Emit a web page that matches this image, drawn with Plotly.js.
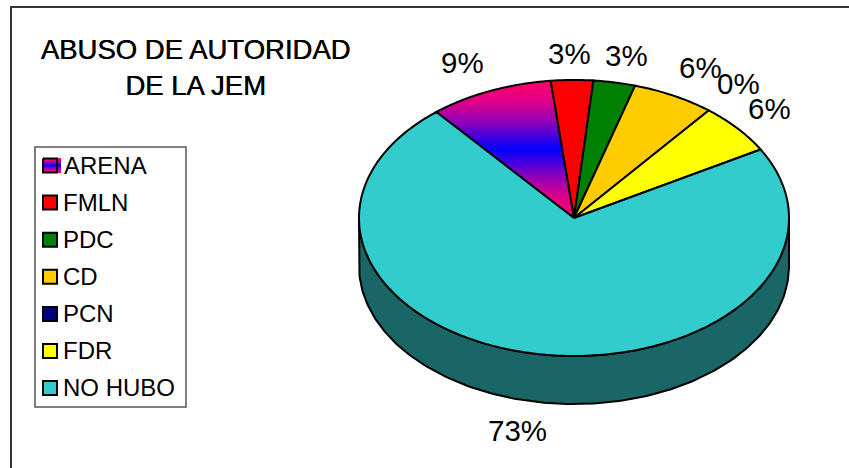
<!DOCTYPE html>
<html><head><meta charset="utf-8">
<script src="https://cdn.plot.ly/plotly-3.0.1.min.js"></script>
<style>html,body{margin:0;padding:0;background:#fff;overflow:hidden}#c{width:849px;height:468px}</style>
</head><body><div id="c"></div>
<script>
var categories = ["ARENA","FMLN","PDC","CD","PCN","FDR","NO HUBO"];
var percents = [9,3,3,6,0,6,73];
var colors = ["#0000ff","#ff0000","#008000","#ffcc00","#000080","#ffff00","#33cccc"];
var sideColor = "#1a6565";
var titleText = "ABUSO DE AUTORIDAD<br>DE LA JEM";

// percent label anchors on the page-pixel axes
var labelX = [462,569,626,700,738,769,517];
var labelY = [62,53,55,67,83,108,430];

// pie view geometry
var cx=574, cy=218, rx=215, ry=138, depth=48, startDeg=-38.3, stretch=1.055;
var FONT="Liberation Sans, Arial, sans-serif";
var GRAD={type:"vertical",colorscale:[[0,"#ff0066"],[0.15,"#e00088"],[0.3,"#9000b8"],[0.5,"#0000ff"],[0.7,"#9000b8"],[0.85,"#e00088"],[1,"#ff0066"]]};

function rim(deg){
  var a=deg*Math.PI/180;
  var t=Math.atan2(Math.sin(a)*stretch,Math.cos(a));
  return [cx+rx*Math.sin(t), cy-ry*Math.cos(t)];
}
var traces=[];
// side wall: front half of the rim, dropped by depth
var wx=[],wy=[],d;
for(d=90;d<=270;d++){wx.push(cx+rx*Math.sin(d*Math.PI/180));wy.push(cy-ry*Math.cos(d*Math.PI/180));}
for(d=270;d>=90;d--){wx.push(cx+rx*Math.sin(d*Math.PI/180));wy.push(cy-ry*Math.cos(d*Math.PI/180)+depth);}
wx.push(wx[0]);wy.push(wy[0]);
traces.push({type:"scatter",mode:"lines",x:wx,y:wy,fill:"toself",fillcolor:sideColor,
  line:{color:"#000",width:2},hoverinfo:"skip",showlegend:false,name:"side"});

// top face slices, computed from percents
var total=percents.reduce(function(a,b){return a+b;},0), ang=startDeg;
percents.forEach(function(v,i){
  var sweep=v/total*360;
  if(sweep>0){
    var xs=[cx],ys=[cy],n=Math.max(2,Math.ceil(sweep));
    for(var k=0;k<=n;k++){var p=rim(ang+sweep*k/n);xs.push(p[0]);ys.push(p[1]);}
    xs.push(cx);ys.push(cy);
    var tr={type:"scatter",mode:"lines",x:xs,y:ys,fill:"toself",fillcolor:colors[i],
      line:{color:"#000",width:2,simplify:false},name:categories[i],text:v+"%",hoverinfo:"name+text",showlegend:false};
    if(i===0) tr.fillgradient=GRAD;
    traces.push(tr);
  }
  ang+=sweep;
});

// legend
var legendX=50, legendTextX=64, legendTop=165.5, legendStep=37.1;
var annotations=[];
categories.forEach(function(c,i){
  var y=legendTop+i*legendStep;
  if(i===0){
    traces.push({type:"scatter",mode:"lines",x:[58,61,61,58,58],y:[y-7.5,y-7.5,y+7.5,y+7.5,y-7.5],fill:"toself",
      fillcolor:"#ff0066",line:{width:0},fillgradient:GRAD,hoverinfo:"skip",showlegend:false});
    traces.push({type:"scatter",mode:"lines",x:[43,57,57,43,43],y:[y-7,y-7,y+7,y+7,y-7],fill:"toself",
      fillcolor:"#0000ff",line:{color:"#000",width:2},fillgradient:GRAD,hoverinfo:"skip",showlegend:false});
  } else {
    traces.push({type:"scatter",mode:"markers",x:[legendX],y:[y],
      marker:{symbol:"square",size:14,color:colors[i],line:{color:"#000",width:2}},hoverinfo:"skip",showlegend:false});
  }
  annotations.push({x:legendTextX,y:y-0.5,xref:"x",yref:"y",xanchor:"left",yanchor:"middle",text:c,showarrow:false,
    xshift:(i===0?-2:-3),font:{family:FONT,size:24,color:"#000"}});
});
percents.forEach(function(v,i){
  annotations.push({x:labelX[i],y:labelY[i],xref:"x",yref:"y",xanchor:"center",yanchor:"middle",text:v+"%",showarrow:false,
    font:{family:FONT,size:29.5,color:"#000"}});
});

var layout={
  width:849,height:468,margin:{l:0,r:0,t:0,b:0,pad:0},paper_bgcolor:"#fff",plot_bgcolor:"#fff",showlegend:false,
  title:{text:titleText,x:195.5/849,xanchor:"center",y:1-59/468,yanchor:"middle",font:{family:FONT,size:27.5,color:"#000",shadow:"0.5px 0 0 #000"}},
  xaxis:{range:[0,849],visible:false,fixedrange:true},
  yaxis:{range:[468,0],visible:false,fixedrange:true},
  annotations:annotations,
  shapes:[
    {type:"line",xref:"x",yref:"y",x0:11,x1:11,y0:7,y1:468,line:{color:"#333",width:2},layer:"below"},
    {type:"line",xref:"x",yref:"y",x0:10,x1:849,y0:7,y1:7,line:{color:"#333",width:2},layer:"below"},
    {type:"rect",xref:"x",yref:"y",x0:35,x1:186,y0:147,y1:407,line:{color:"#555",width:1.5},fillcolor:"#fff",layer:"below"}
  ]
};
Plotly.newPlot("c",traces,layout,{displayModeBar:false,staticPlot:true});
</script></body></html>
